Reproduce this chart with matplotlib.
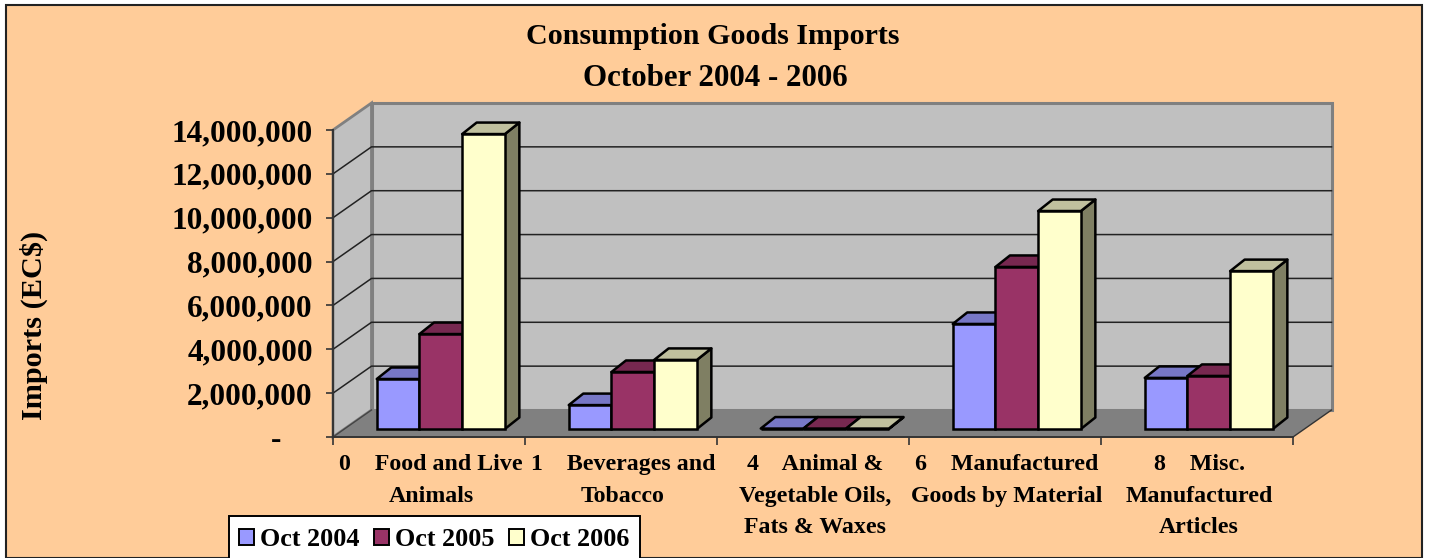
import matplotlib
matplotlib.use("Agg")
import matplotlib.pyplot as plt
from matplotlib.patches import Polygon, Patch, Rectangle
from matplotlib.ticker import FuncFormatter

categories = ["0    Food and Live\nAnimals",
              "1    Beverages and\nTobacco",
              "4    Animal &\nVegetable Oils,\nFats & Waxes",
              "6    Manufactured\nGoods by Material",
              "8    Misc.\nManufactured\nArticles"]
series_names = ["Oct 2004", "Oct 2005", "Oct 2006"]
oct_2004 = [2280000, 1090000, 20000, 4790000, 2330000]
oct_2005 = [4330000, 2600000, 20000, 7390000, 2420000]
oct_2006 = [13450000, 3150000, 20000, 9940000, 7200000]
y_ticks = [0, 2000000, 4000000, 6000000, 8000000, 10000000, 12000000, 14000000]

front_colors = ["#9999FF", "#993366", "#FFFFCC"]
top_colors = ["#7777C6", "#772850", "#C0C09E"]
side_colors = ["#4D4D80", "#4D1A33", "#7F7F63"]
FONT = "Liberation Serif"

W, H = 1429, 558
fig = plt.figure(figsize=(W / 100, H / 100), dpi=100, facecolor="white")
fig.add_artist(Rectangle((6 / W, 0), (1422 - 6) / W, (H - 5) / H, transform=fig.transFigure,
                         facecolor="#FFCC99", edgecolor="#222222", linewidth=1.5, zorder=-5))

L, R, T, B = 333, 1293, 130, 437
ax = fig.add_axes([L / W, (H - B) / H, (R - L) / W, (B - T) / H])
ax.patch.set_visible(False)
ax.set_xlim(0, 5)
ax.set_ylim(0, 14000000)

px_x = 5 / (R - L)
px_y = 14000000 / (B - T)
dx, dy = 38.5 * px_x, 27 * px_y        # full chart depth
ymax = 14000000

# walls and floor
ax.add_patch(Polygon([(dx, dy), (5 + dx, dy), (5 + dx, ymax + dy), (dx, ymax + dy)],
                     closed=True, facecolor="#C0C0C0", edgecolor="#808080", lw=2.2, clip_on=False, zorder=1))
ax.add_patch(Polygon([(0, 0), (dx, dy), (dx, ymax + dy), (0, ymax)],
                     closed=True, facecolor="#C0C0C0", edgecolor="#808080", lw=2.0, clip_on=False, zorder=1))
ax.add_patch(Polygon([(0, 0), (5, 0), (5 + dx, dy), (dx, dy)],
                     closed=True, facecolor="#808080", edgecolor="none", clip_on=False, zorder=1.5))
ax.plot([5, 5 + dx], [0, dy], color="#333333", lw=1, clip_on=False, zorder=1.6)

for v in y_ticks[1:-1]:
    ax.plot([0, dx, 5 + dx], [v, v + dy, v + dy], color="#222222", lw=1.1, clip_on=False, zorder=2)
ax.plot([0, dx], [0, dy], color="#444444", lw=1, clip_on=False, zorder=2)

# bars
series = [oct_2004, oct_2005, oct_2006]
bw = 42.7 * px_x
ox, oy = 11.8 * px_x, 8 * px_y
bdx, bdy = 14.5 * px_x, 11.5 * px_y
z = 3.0
for c in range(len(categories)):
    for s, vals in enumerate(series):
        v = vals[c]
        x0 = c + 0.5 + (s - 1.5) * bw + ox
        x1 = x0 + bw
        y0 = oy
        y1 = oy + v
        ax.add_patch(Polygon([(x1, y0), (x1 + bdx, y0 + bdy), (x1 + bdx, y1 + bdy), (x1, y1)],
                             closed=True, facecolor=side_colors[s], edgecolor="black", lw=1.8,
                             joinstyle="round", clip_on=False, zorder=z))
        ax.add_patch(Polygon([(x0, y1), (x1, y1), (x1 + bdx, y1 + bdy), (x0 + bdx, y1 + bdy)],
                             closed=True, facecolor=top_colors[s], edgecolor="black", lw=1.8,
                             joinstyle="round", clip_on=False, zorder=z + 0.01))
        ax.bar(x0, v, width=bw, bottom=y0, align="edge", color=front_colors[s], edgecolor="black",
               linewidth=1.8, clip_on=False, zorder=z + 0.02)
        z += 0.1

for sp in ("top", "right"):
    ax.spines[sp].set_visible(False)
for sp in ("left", "bottom"):
    ax.spines[sp].set_color("#333333")
    ax.spines[sp].set_linewidth(1.4)
    ax.spines[sp].set_zorder(2.5)

ax.set_yticks(y_ticks)
ax.yaxis.set_major_formatter(FuncFormatter(lambda v, _: f"{int(v):,}" if v else "-    "))
ax.tick_params(axis="y", length=5, width=1.2, color="#333333", pad=9.5)
for t in ax.get_yticklabels():
    t.set_fontname(FONT); t.set_fontweight("bold"); t.set_fontsize(22.5)

ax.set_xticks([i + 0.5 + 2 * px_x for i in range(5)])
ax.set_xticklabels(categories, fontname=FONT, fontweight="bold", fontsize=17.2, linespacing=1.64)
ax.set_xticks(range(6), minor=True)
ax.tick_params(axis="x", which="major", length=0, pad=12.5)
ax.tick_params(axis="x", which="minor", length=6, width=1.2, color="#333333")

fig.text(713 / W, 1 - 37 / H, "Consumption Goods Imports", ha="center", va="center",
         fontname=FONT, fontweight="bold", fontsize=21.6)
fig.text(715 / W, 1 - 78 / H, "October 2004 - 2006", ha="center", va="center",
         fontname=FONT, fontweight="bold", fontsize=22.3)
fig.text(33.5 / W, 1 - 325 / H, "Imports (EC$)", rotation=90, ha="center", va="center",
         fontname=FONT, fontweight="bold", fontsize=21.8)

fig.add_artist(Rectangle((229 / W, 1 - 562 / H), 411 / W, 46 / H, transform=fig.transFigure,
                         facecolor="white", edgecolor="black", linewidth=1.4, zorder=4))
handles = [Patch(facecolor=front_colors[i], edgecolor="black", linewidth=1.4, label=series_names[i]) for i in range(3)]
leg = fig.legend(handles=handles, ncol=3, loc="center left", bbox_to_anchor=(239 / W, 1 - 540 / H),
                 borderaxespad=0, frameon=False, handlelength=0.56, handleheight=0.56,
                 handletextpad=0.25, columnspacing=0.55, borderpad=0,
                 prop={"family": FONT, "weight": "bold", "size": 18.8})
leg.set_zorder(6)

fig.savefig("out.png", dpi=100, facecolor=fig.get_facecolor())
